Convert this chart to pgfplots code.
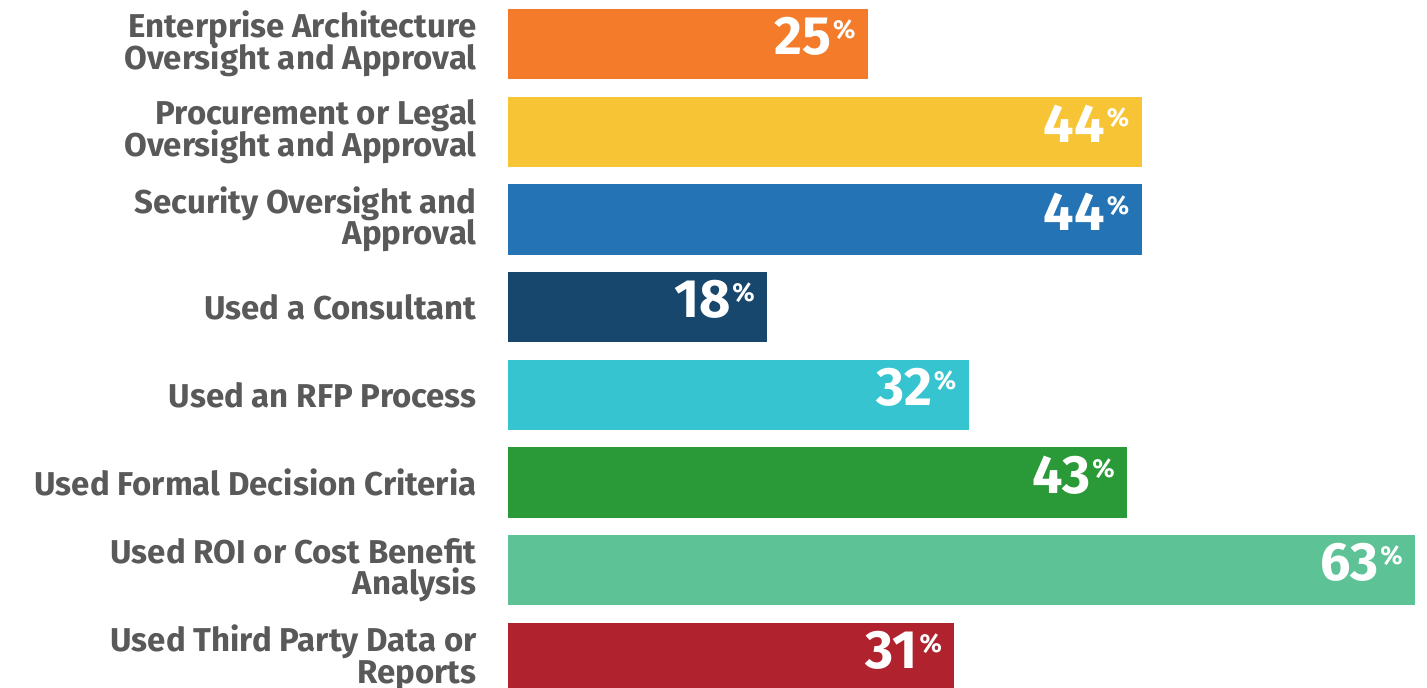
\documentclass[border=0pt]{standalone}
\usepackage{fontspec}
\setmainfont{Fira Sans}
\usepackage{pgfplots}
\pgfplotsset{compat=1.18}
\definecolor{labelgray}{HTML}{595959}
\definecolor{c1}{HTML}{F47B29}
\definecolor{c2}{HTML}{F7C435}
\definecolor{c3}{HTML}{2474B5}
\definecolor{c4}{HTML}{17476D}
\definecolor{c5}{HTML}{35C4D0}
\definecolor{c6}{HTML}{2A9937}
\definecolor{c7}{HTML}{5DC396}
\definecolor{c8}{HTML}{B0232E}

% value label: big number, small raised percent sign
\newcommand{\pct}[1]{{\fontsize{27}{27}\selectfont #1}\kern1pt\raisebox{8pt}{\fontsize{13}{13}\selectfont\%}}
% category labels: tight leading, no lineskip fallback
\newcommand{\labelfont}{\fontsize{16.5}{15.75}\selectfont\bfseries\lineskiplimit=-20pt\relax}

\begin{document}
\begin{tikzpicture}
\useasboundingbox (0,0) rectangle (713.5pt,344pt);
\begin{axis}[
  at={(254pt,0pt)}, anchor=south west,
  scale only axis, width=459.5pt, height=344pt,
  xbar, bar width=0.8,
  xmin=0, xmax=63.83,
  ymin=-0.502, ymax=7.343, y dir=reverse,
  axis line style={draw=none},
  major tick length=0pt,
  xtick=\empty,
  ytick={0,...,7},
  yticklabels={Enterprise Architecture\\Oversight and Approval,
               Procurement or Legal\\Oversight and Approval,
               Security Oversight and\\Approval,
               Used a Consultant,
               Used an RFP Process,
               Used Formal Decision Criteria,
               Used ROI or Cost Benefit\\Analysis,
               Used Third Party Data or\\Reports},
  yticklabel style={align=right, anchor=east, inner sep=0pt, xshift=-15.5pt,
    text=labelgray, font=\labelfont},
  every axis plot/.append style={draw=none, bar shift=0pt},
  /pgf/number format/assume math mode=true,
  nodes near coords={\pct{\pgfmathprintnumber{\pgfplotspointmeta}}},
  nodes near coords style={anchor=east, inner sep=0pt, xshift=-6pt, yshift=3.75pt,
    text=white, font=\bfseries},
]
\addplot[fill=c1] coordinates {(25,0)};
\addplot[fill=c2] coordinates {(44,1)};
\addplot[fill=c3] coordinates {(44,2)};
\addplot[fill=c4] coordinates {(18,3)};
\addplot[fill=c5] coordinates {(32,4)};
\addplot[fill=c6] coordinates {(43,5)};
\addplot[fill=c7] coordinates {(63,6)};
\addplot[fill=c8] coordinates {(31,7)};
\end{axis}
\end{tikzpicture}
\end{document}
